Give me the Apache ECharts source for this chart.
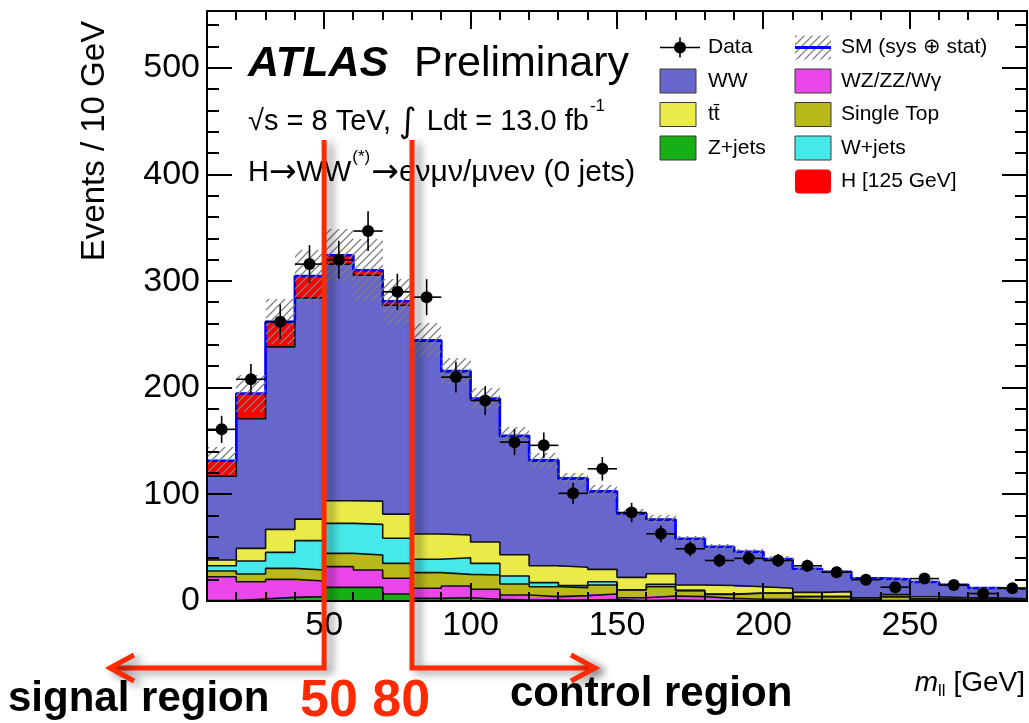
<!DOCTYPE html>
<html>
<head>
<meta charset="utf-8">
<title>m_ll distribution, H→WW 0-jet</title>
<script src="https://cdn.jsdelivr.net/npm/echarts@6.0.0/dist/echarts.min.js"></script>
<style>
html, body { margin: 0; padding: 0; background: #ffffff; }
#chart { width: 1029px; height: 723px; }
</style>
</head>
<body>
<div id="chart"></div>
<script>
// Bin edges of the dilepton invariant mass, 10 GeV wide [GeV]
const binEdges = [10, 20, 30, 40, 50, 60, 70, 80, 90, 100, 110, 120, 130, 140, 150,
  160, 170, 180, 190, 200, 210, 220, 230, 240, 250, 260, 270, 280, 290];

// Expected events per bin, stacked from the bottom up in this order
const zjets = [0.5, 1.9, 3.4, 4.1, 12.8, 12.8, 6.6, 2.5, 3.1, 1.6, 0.9, 0.8, 0.8, 1.3,
  0.5, 1.0, 0.5, 0.3, 0.3, 0.3, 0.2, 0.2, 0.1, 0.1, 0.1, 0.1, 0.1, 0.1];
const diboson = [22.3, 16.2, 16.9, 14.6, 19.4, 16.3, 14.7, 9.4, 11.0, 9.4, 4.7, 3.3, 4.2, 5.3,
  2.6, 3.7, 3.6, 2.2, 1.3, 1.3, 0.8, 0.8, 0.4, 0.4, 0.3, 0.3, 0.2, 0.2];
const singleTop = [5.3, 7.2, 10.3, 10.4, 12.5, 14.0, 14.0, 14.7, 10.9, 13.4, 10.3, 9.3, 7.5, 8.4,
  7.2, 8.7, 5.6, 3.7, 5.6, 5.6, 3.1, 3.1, 1.0, 3.5, 1.6, 1.1, 1.7, 0.7];
const wjets = [5.0, 12.2, 15.0, 27.5, 28.1, 28.8, 23.5, 12.5, 15.6, 10.9, 7.5, 3.8, 1.9, 3.1,
  0.2, 2.2, 0.3, 0.3, 0.3, 0.2, 0.1, 0.1, 0.1, 0.1, 0.1, 0.1, 0.1, 0.1];
const ttbar = [5.3, 11.9, 21.6, 20.2, 21.2, 21.8, 22.7, 23.7, 21.3, 20.0, 20.0, 15.9, 17.2, 11.6,
  11.7, 9.9, 5.0, 8.0, 5.9, 4.5, 3.9, 4.6, 1.4, 1.9, 1.9, 1.4, 0.9, 0.9];
const ww = [78.6, 121.6, 171.2, 207.5, 222.0, 211.8, 195.9, 181.0, 153.1, 134.0, 111.0, 98.3, 82.9, 72.8,
  59.6, 50.6, 43.1, 36.1, 32.5, 27.2, 21.9, 18.5, 18.0, 14.1, 13.6, 12.1, 9.0, 9.3];
const higgs = [14.5, 23.6, 23.4, 20.6, 8.3, 4.7, 3.8, 0.8, 0.8, 0.7, 0.6, 0.6, 0.5, 0.5,
  0.4, 0.4, 0.3, 0.3, 0.3, 0.3, 0.3, 0.2, 0.2, 0.2, 0.2, 0.2, 0.2, 0.2];

// Systematic + statistical uncertainty on the total expectation (half width of the band)
const smUncertainty = [13, 17, 21, 24, 25, 29, 21, 16, 12, 10, 8, 7, 5, 6,
  4, 4, 3, 3, 2.5, 2.5, 2, 2, 1.5, 1.5, 1.5, 1.2, 1, 1];

// Observed events per bin and their statistical errors
const dataCounts = [161, 208, 262, 316, 320, 347, 290, 285, 210, 188, 149, 146, 101, 124,
  83, 63, 49, 38, 40, 38, 33, 27, 20, 13, 21, 15, 7, 12];
const dataErrors = [12.7, 14.4, 16.2, 17.8, 17.9, 18.6, 17.0, 16.9, 14.5, 13.7, 12.2, 12.1, 10.0, 11.1,
  9.1, 7.9, 7.0, 6.2, 6.3, 6.2, 5.7, 5.2, 4.5, 3.6, 4.6, 3.9, 2.6, 3.5];

// Axis tick values
const xMajorTicks = [50, 100, 150, 200, 250];
const yMajorTicks = [0, 100, 200, 300, 400, 500];
const yMinorTicks = [20, 40, 60, 80, 100, 120, 140, 160, 180, 200, 220, 240, 260, 280, 300,
  320, 340, 360, 380, 400, 420, 440, 460, 480, 500, 520, 540];

// Cuts separating the signal region from the control region [GeV]
const regionCuts = [50, 80];

const FONT = '"Liberation Sans", Arial, Helvetica, sans-serif';
const SYMFONT = '"DejaVu Sans", sans-serif';
const RED = '#ff2a00';
const nBins = binEdges.length - 1;
const X_MIN = binEdges[0], X_MAX = binEdges[nBins];
const Y_MAX = 553.4;
const CHART_W = 1029, CHART_H = 723;
const GRID = { left: 207, right: 2, top: 11, bottom: 122 };

// Diagonal grey hatching used for the uncertainty band
function makeHatch() {
  const c = document.createElement('canvas');
  c.width = 8; c.height = 8;
  const g = c.getContext('2d');
  g.strokeStyle = '#808080';
  g.lineWidth = 1.3;
  g.beginPath();
  g.moveTo(0, 8); g.lineTo(8, 0);
  g.moveTo(-4, 4); g.lineTo(4, -4);
  g.moveTo(4, 12); g.lineTo(12, 4);
  g.stroke();
  return c;
}
const hatchFill = { type: 'pattern', image: makeHatch(), repeat: 'repeat' };

const measureCtx = document.createElement('canvas').getContext('2d');
function textWidth(str, size, family, style) {
  measureCtx.font = (style || '') + ' ' + size + 'px ' + (family || FONT);
  return measureCtx.measureText(str).width;
}

function rectItem(fill) {
  return function (params, api) {
    const p0 = api.coord([api.value(0), api.value(2)]);
    const p1 = api.coord([api.value(1), api.value(3)]);
    const x0 = Math.round(p0[0]), x1 = Math.round(p1[0]);
    const yb = Math.round(p0[1]), yt = Math.round(p1[1]);
    return {
      type: 'rect',
      shape: { x: x0, y: yt, width: x1 - x0, height: yb - yt },
      style: { fill: fill }
    };
  };
}

function stepLine(name, tops, color, width, z) {
  const pts = tops.map((v, i) => [binEdges[i], v]);
  pts.push([binEdges[nBins], tops[nBins - 1]]);
  return {
    type: 'line', name: name, step: 'end', data: pts, z: z,
    symbol: 'none', showSymbol: false, silent: true,
    lineStyle: { color: color, width: width }
  };
}

// Stacked expectation: filled bins plus a black outline on every layer
const components = [
  { name: 'Z+jets', values: zjets, color: '#16b016' },
  { name: 'WZ/ZZ/Wγ', values: diboson, color: '#ea46ea' },
  { name: 'Single Top', values: singleTop, color: '#b9b91b' },
  { name: 'W+jets', values: wjets, color: '#46e9e9' },
  { name: 'tt\u0304', values: ttbar, color: '#eaea48' },
  { name: 'WW', values: ww, color: '#6666cc' },
  { name: 'H [125 GeV]', values: higgs, color: '#ff0000' }
];

const series = [];
let running = new Array(nBins).fill(0);
components.forEach((comp, k) => {
  const rects = [];
  const tops = [];
  for (let i = 0; i < nBins; i++) {
    const lo = running[i];
    const hi = lo + comp.values[i];
    rects.push([binEdges[i], binEdges[i + 1], lo, hi]);
    tops.push(hi);
  }
  running = tops;
  series.push({
    type: 'custom', name: comp.name, z: 2, silent: true,
    renderItem: rectItem(comp.color),
    encode: { x: [0, 1], y: [2, 3] },
    data: rects
  });
  if (k < components.length - 1) series.push(stepLine(comp.name + ' outline', tops, '#111111', 1.6, 3));
});
const totals = running;

// Total SM expectation line
series.push(stepLine('SM (sys \u2295 stat)', totals, '#0000ff', 2.6, 4));

// Hatched uncertainty band around the total
series.push({
  type: 'custom', name: 'SM uncertainty', z: 5, silent: true,
  renderItem: rectItem(hatchFill),
  encode: { x: [0, 1], y: [2, 3] },
  data: totals.map((t, i) => [binEdges[i], binEdges[i + 1], t - smUncertainty[i], t + smUncertainty[i]])
});

// Data points with error bars
series.push({
  type: 'custom', name: 'Data', z: 8, silent: true,
  encode: { x: 0, y: 1 },
  data: dataCounts.map((n, i) => [(binEdges[i] + binEdges[i + 1]) / 2, n, dataErrors[i], binEdges[i], binEdges[i + 1]]),
  renderItem: function (params, api) {
    const c = api.coord([api.value(0), api.value(1)]);
    const l = api.coord([api.value(3), api.value(1)]);
    const r = api.coord([api.value(4), api.value(1)]);
    const t = api.coord([api.value(0), api.value(1) + api.value(2)]);
    const b = api.coord([api.value(0), api.value(1) - api.value(2)]);
    return {
      type: 'group',
      children: [
        { type: 'line', shape: { x1: l[0], y1: c[1], x2: r[0], y2: c[1] }, style: { stroke: '#000', lineWidth: 1.6 } },
        { type: 'line', shape: { x1: c[0], y1: t[1], x2: c[0], y2: b[1] }, style: { stroke: '#000', lineWidth: 1.6 } },
        { type: 'circle', shape: { cx: c[0], cy: c[1], r: 6 }, style: { fill: '#000' } }
      ]
    };
  }
});

// Frame axes with tick labels
function xAxisDef(position, withLabels) {
  return {
    type: 'value', min: X_MIN, max: X_MAX, position: position, z: 10,
    axisLine: { show: true, onZero: false, lineStyle: { color: '#000', width: 2 } },
    axisTick: { show: false },
    axisLabel: withLabels
      ? { show: true, customValues: xMajorTicks, margin: 8, color: '#000', fontSize: 34, fontFamily: FONT }
      : { show: false },
    splitLine: { show: false }
  };
}
function yAxisDef(position, withLabels) {
  return {
    type: 'value', min: 0, max: Y_MAX, position: position, z: 10,
    axisLine: { show: true, onZero: false, lineStyle: { color: '#000', width: 2 } },
    axisTick: { show: false },
    axisLabel: withLabels
      ? { show: true, customValues: yMajorTicks, margin: 7, color: '#000', fontSize: 34, fontFamily: FONT }
      : { show: false },
    splitLine: { show: false }
  };
}

const graphics = [];

// Inward ticks on all four sides of the frame, mapped linearly onto the plot area
const plotL = GRID.left, plotR = CHART_W - GRID.right;
const plotT = GRID.top, plotB = CHART_H - GRID.bottom;
const xPix = v => plotL + (v - X_MIN) / (X_MAX - X_MIN) * (plotR - plotL);
const yPix = v => plotB - v / Y_MAX * (plotB - plotT);
const TW = 2;
function tickBar(x, y, w, h) {
  graphics.push({ type: 'rect', z: 55, silent: true, shape: { x: x, y: y, width: w, height: h }, style: { fill: '#000000' } });
}
function xTick(v, len) {
  const x = Math.round(xPix(v)) - TW / 2;
  tickBar(x, plotB - len, TW, len);
  tickBar(x, plotT, TW, len);
}
function yTick(v, len) {
  const y = Math.round(yPix(v)) - TW / 2;
  tickBar(plotL, y, len, TW);
  tickBar(plotR - len, y, len, TW);
}
binEdges.slice(1, -1).forEach(v => xTick(v, 9));
xMajorTicks.forEach(v => xTick(v, 18));
yMinorTicks.forEach(v => yTick(v, 12));
yMajorTicks.forEach(v => yTick(v, 25));

// Legend
const legendRows = [47.5, 81, 114.5, 148, 181.5];
const col1Box = 660, col1Text = 708, col2Box = 795, col2Text = 841;
const LEG = 21;
function legText(x, y, str) {
  graphics.push({ type: 'text', x: x, y: y, z: 50, style: { text: str, fill: '#000', fontSize: LEG, fontFamily: FONT, align: 'left', verticalAlign: 'middle' } });
}
function legBox(x, y, color, round) {
  graphics.push({ type: 'rect', z: 50, shape: { x: x, y: y - 12, width: 36, height: 24, r: round ? 4 : 0 },
    style: { fill: color, stroke: round ? null : '#3a3a3a', lineWidth: 1 } });
}
// Data marker
graphics.push({ type: 'line', z: 50, shape: { x1: col1Box, y1: legendRows[0], x2: col1Box + 40, y2: legendRows[0] }, style: { stroke: '#000', lineWidth: 1.6 } });
graphics.push({ type: 'line', z: 50, shape: { x1: col1Box + 20, y1: legendRows[0] - 10, x2: col1Box + 20, y2: legendRows[0] + 10 }, style: { stroke: '#000', lineWidth: 1.6 } });
graphics.push({ type: 'circle', z: 51, shape: { cx: col1Box + 20, cy: legendRows[0], r: 6 }, style: { fill: '#000' } });
legText(col1Text, legendRows[0], 'Data');
legBox(col1Box, legendRows[1], components[5].color); legText(col1Text, legendRows[1], components[5].name);
legBox(col1Box, legendRows[2], components[4].color); legText(col1Text, legendRows[2], components[4].name);
legBox(col1Box, legendRows[3], components[0].color); legText(col1Text, legendRows[3], components[0].name);
// SM band marker
graphics.push({ type: 'rect', z: 50, shape: { x: col2Box, y: legendRows[0] - 12, width: 36, height: 24 }, style: { fill: hatchFill } });
graphics.push({ type: 'line', z: 51, shape: { x1: col2Box, y1: legendRows[0], x2: col2Box + 36, y2: legendRows[0] }, style: { stroke: '#0000ff', lineWidth: 3 } });
legText(col2Text, legendRows[0], 'SM (sys \u2295 stat)');
legBox(col2Box, legendRows[1], components[1].color); legText(col2Text, legendRows[1], components[1].name);
legBox(col2Box, legendRows[2], components[2].color); legText(col2Text, legendRows[2], components[2].name);
legBox(col2Box, legendRows[3], components[3].color); legText(col2Text, legendRows[3], components[3].name);
legBox(col2Box, legendRows[4], components[6].color, true); legText(col2Text, legendRows[4], components[6].name);

// ATLAS label and analysis description
graphics.push({ type: 'text', x: 248, y: 64, z: 50, style: { text: 'ATLAS', fill: '#000', fontSize: 43, fontWeight: 'bold', fontStyle: 'italic', fontFamily: FONT, verticalAlign: 'middle' } });
graphics.push({ type: 'text', x: 414, y: 64, z: 50, style: { text: 'Preliminary', fill: '#000', fontSize: 43, fontFamily: FONT, verticalAlign: 'middle' } });

// Lays out a run of text pieces left to right (super/subscripts and symbols)
function textRun(x, y, parts) {
  let cx = x;
  parts.forEach(p => {
    const size = p.size || 29;
    const family = p.family || FONT;
    graphics.push({ type: 'text', x: cx, y: y + (p.dy || 0), z: 50,
      style: { text: p.t, fill: '#000', fontSize: size, fontFamily: family, fontStyle: p.style || 'normal', verticalAlign: 'middle' } });
    cx += textWidth(p.t, size, family, p.style) + (p.gap || 0);
  });
}
textRun(248, 122, [
  { t: '\u221As = 8 TeV, ' },
  { t: '\u222B', family: SYMFONT, size: 34, dy: 1, gap: 2 },
  { t: ' Ldt = 13.0 fb', gap: 1 },
  { t: '-1', size: 17, dy: -16 }
]);
textRun(248, 173, [
  { t: 'H' },
  { t: '\u2192', family: SYMFONT, size: 33 },
  { t: 'WW', gap: 1 },
  { t: '(*)', size: 17, dy: -16, gap: 1 },
  { t: '\u2192', family: SYMFONT, size: 33 },
  { t: 'e\u03BD\u03BC\u03BD/\u03BC\u03BDe\u03BD (0 jets)', size: 30 }
]);

// Axis titles
graphics.push({ type: 'text', x: 95, y: 141, rotation: Math.PI / 2, z: 50, style: { text: 'Events / 10 GeV', fill: '#000', fontSize: 33, fontFamily: FONT, align: 'center', verticalAlign: 'middle' } });
const TITLE = 28, SUB = 17;
const titleW = textWidth('m', TITLE, FONT, 'italic') + textWidth('ll', SUB) + textWidth(' [GeV]', TITLE);
textRun(1025 - titleW, 683, [
  { t: 'm', size: TITLE, style: 'italic' },
  { t: 'll', size: SUB, dy: 8 },
  { t: ' [GeV]', size: TITLE }
]);

// Region captions
graphics.push({ type: 'text', x: 8, y: 699, z: 60, style: { text: 'signal region', fill: '#000', fontSize: 42, fontWeight: 'bold', fontFamily: FONT, verticalAlign: 'middle' } });
graphics.push({ type: 'text', x: 300, y: 702, z: 60, style: { text: regionCuts[0] + ' ' + regionCuts[1], fill: RED, fontSize: 52, fontWeight: 'bold', fontFamily: FONT, verticalAlign: 'middle' } });
graphics.push({ type: 'text', x: 510, y: 694, z: 60, style: { text: 'control region', fill: '#000', fontSize: 42, fontWeight: 'bold', fontFamily: FONT, verticalAlign: 'middle' } });

const option = {
  animation: false,
  backgroundColor: '#ffffff',
  grid: Object.assign({ containLabel: false, outerBoundsMode: 'none' }, GRID),
  xAxis: [xAxisDef('bottom', true), xAxisDef('top', false)],
  yAxis: [yAxisDef('left', true), yAxisDef('right', false)],
  series: series,
  graphic: graphics
};

const chart = echarts.init(document.getElementById('chart'), null, { renderer: 'canvas' });
chart.setOption(option);

// Region boundaries with arrows, placed through the x axis scale
const cutA = chart.convertToPixel({ xAxisIndex: 0 }, regionCuts[0]);
const cutB = chart.convertToPixel({ xAxisIndex: 0 }, regionCuts[1]);
const arrowTop = 140, arrowY = 668;
const shadow = { shadowBlur: 9, shadowColor: 'rgba(0,0,0,0.45)', shadowOffsetX: 6, shadowOffsetY: 3 };
const redStyle = () => Object.assign({ stroke: RED, lineWidth: 5, fill: null, lineJoin: 'miter' }, shadow);
const annotations = [
  { type: 'polyline', z: 70, shape: { points: [[cutA, arrowTop], [cutA, arrowY], [110, arrowY]] }, style: redStyle() },
  { type: 'polyline', z: 70, shape: { points: [[134, arrowY - 13], [110, arrowY], [134, arrowY + 13]] }, style: redStyle() },
  { type: 'polyline', z: 70, shape: { points: [[cutB, arrowTop], [cutB, arrowY], [595, arrowY]] }, style: redStyle() },
  { type: 'polyline', z: 70, shape: { points: [[571, arrowY - 13], [595, arrowY], [571, arrowY + 13]] }, style: redStyle() }
];
chart.setOption({ graphic: graphics.concat(annotations) });
</script>
</body>
</html>
